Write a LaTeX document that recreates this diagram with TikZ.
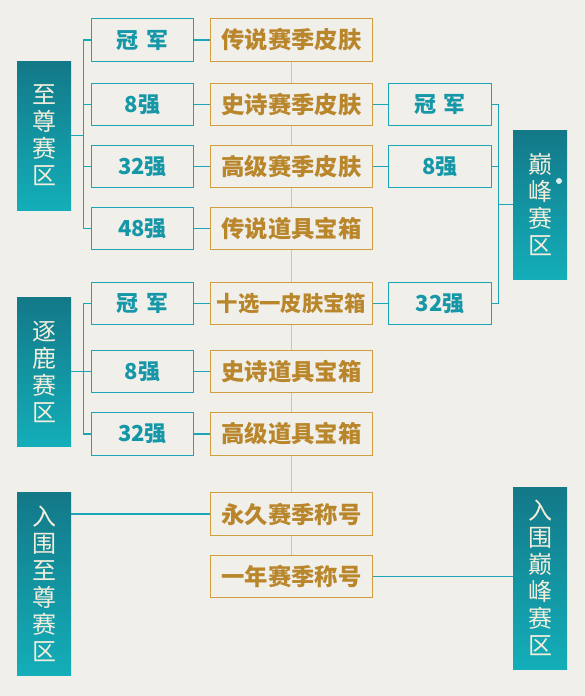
\documentclass[tikz,border=0pt]{standalone}
\usepackage{fontspec}
\newfontfamily\cjk{Noto Sans CJK SC}
\usetikzlibrary{positioning}

\definecolor{paper}{HTML}{F0EFEA}
\definecolor{tealbox}{HTML}{1AA6B6}
\definecolor{tealtext}{HTML}{1697A8}
\definecolor{goldbox}{HTML}{D29E42}
\definecolor{goldtext}{HTML}{B9862B}
\definecolor{goldlink}{HTML}{DCC290}
\definecolor{zonetop}{HTML}{137888}
\definecolor{zonebot}{HTML}{13AEB9}
\definecolor{zonetext}{HTML}{F3EEDC}

\tikzset{
  rankbox/.style={draw=tealbox, line width=0.9pt, fill=paper, inner sep=0pt,
    minimum width=77pt, minimum height=32pt, text=tealtext,
    font=\cjk\bfseries\fontsize{16.5}{17}\selectfont},
  prizebox/.style={draw=goldbox, line width=0.9pt, fill=paper, inner sep=0pt,
    minimum width=121pt, minimum height=32pt, text=goldtext,
    font=\cjk\bfseries\fontsize{17.5}{18}\selectfont},
  zonebox/.style={top color=zonetop, bottom color=zonebot, inner sep=0pt,
    minimum width=40.5pt, text=zonetext, align=center,
    font=\cjk\fontsize{18}{20.25}\selectfont},
  tealline/.style={draw=tealbox, line width=0.8pt},
  goldline/.style={draw=goldlink, line width=1pt}
}

\begin{document}
\begin{tikzpicture}[x=0.75pt, y=-0.75pt]
  % paper
  \fill[paper] (0,0) rectangle (585,696);

  % zones
  \node[zonebox, minimum height=111.75pt] (zz) at (44,135.5) {至\\尊\\赛\\区};
  \node[zonebox, minimum height=111.75pt] (zl) at (44,371.5) {逐\\鹿\\赛\\区};
  \node[zonebox, minimum height=137.25pt] (rz) at (44,583.5) {入\\围\\至\\尊\\赛\\区};
  \node[zonebox, minimum height=111.75pt] (df) at (540,204.5) {巅\\峰\\赛\\区};
  \node[zonebox, minimum height=136.5pt] (rd) at (540,578) {入\\围\\巅\\峰\\赛\\区};
  \fill[white, opacity=0.85] (559,181) circle (3);

  % prizes
  \node[prizebox] (g1) at (291.5,40)    {传说赛季皮肤};
  \node[prizebox] (g2) at (291.5,104.5) {史诗赛季皮肤};
  \node[prizebox] (g3) at (291.5,166.5) {高级赛季皮肤};
  \node[prizebox] (g4) at (291.5,228.5) {传说道具宝箱};
  \node[prizebox, font=\cjk\bfseries\fontsize{16}{17}\selectfont]
    (g5) at (291.5,303.5) {十选一皮肤宝箱};
  \node[prizebox] (g6) at (291.5,371.5) {史诗道具宝箱};
  \node[prizebox] (g7) at (291.5,434)   {高级道具宝箱};
  \node[prizebox] (g8) at (291.5,514)   {永久赛季称号};
  \node[prizebox] (g9) at (291.5,576.5) {一年赛季称号};
  \foreach \a/\b in {g1/g2,g2/g3,g3/g4,g4/g5,g5/g6,g6/g7,g7/g8,g8/g9}
    \draw[goldline] (\a.south) -- (\b.north);

  % ranks, left
  \node[rankbox] (a1) at (142.5,40)    {冠\,\,军};
  \node[rankbox] (a2) at (142.5,104.5) {8强};
  \node[rankbox] (a3) at (142.5,166.5) {32强};
  \node[rankbox] (a4) at (142.5,228.5) {48强};
  \node[rankbox] (b1) at (142.5,303.5) {冠\,\,军};
  \node[rankbox] (b2) at (142.5,371.5) {8强};
  \node[rankbox] (b3) at (142.5,434)   {32强};

  % ranks, right
  \node[rankbox] (c1) at (440,104.5) {冠\,\,军};
  \node[rankbox] (c2) at (440,166.5) {8强};
  \node[rankbox] (c3) at (440,303.5) {32强};

  % rank -> prize
  \foreach \a/\b in {a1/g1,a2/g2,a3/g3,a4/g4,b1/g5,b2/g6,b3/g7}
    \draw[tealline] (\a.east) -- (\b.west);
  \foreach \a/\b in {g2/c1,g3/c2,g5/c3}
    \draw[tealline] (\a.east) -- (\b.west);

  % brackets
  \draw[tealline] (zz.east) -- ++(12,0) coordinate (zzb);
  \draw[tealline] (zzb |- a1) -- (zzb |- a4);
  \foreach \n in {a1,a2,a3,a4}
    \draw[tealline] (zzb |- \n) -- (\n.west);

  \draw[tealline] (zl.east) -- ++(12,0) coordinate (zlb);
  \draw[tealline] (zlb |- b1) -- (zlb |- b3);
  \foreach \n in {b1,b2,b3}
    \draw[tealline] (zlb |- \n) -- (\n.west);

  \draw[tealline] (df.west) -- ++(-14,0) coordinate (dfb);
  \draw[tealline] (dfb |- c1) -- (dfb |- c3);
  \foreach \n in {c1,c2,c3}
    \draw[tealline] (\n.east) -- (dfb |- \n);

  % qualifiers
  \draw[tealline] (rz.east |- g8) -- (g8.west);
  \draw[tealline] (g9.east) -- (rd.west |- g9);
\end{tikzpicture}
\end{document}
